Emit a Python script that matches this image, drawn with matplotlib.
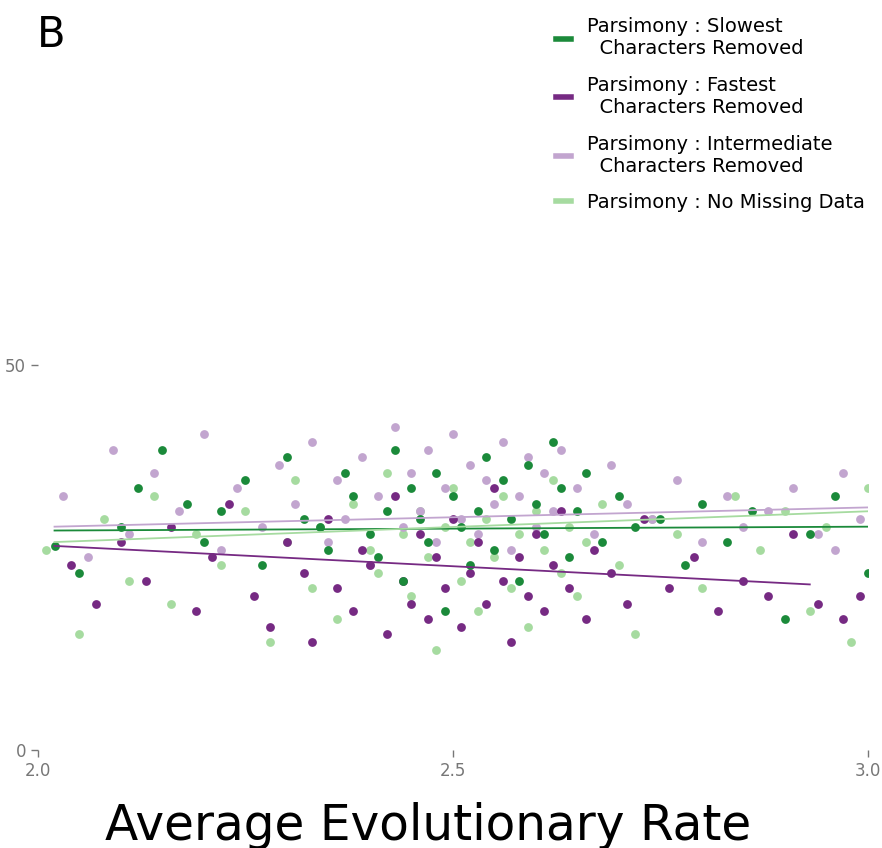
import matplotlib.pyplot as plt
from matplotlib.lines import Line2D

# series points (x = average evolutionary rate, y = value)
slow_x = [2.02,2.05,2.10,2.12,2.15,2.18,2.20,2.22,2.25,2.27,2.30,2.32,2.34,2.35,2.37,2.38,2.40,2.41,2.42,2.43,2.44,2.45,2.46,2.47,2.48,2.49,2.50,2.51,2.52,2.53,2.54,2.55,2.56,2.57,2.58,2.59,2.60,2.61,2.62,2.63,2.64,2.65,2.66,2.68,2.70,2.72,2.75,2.78,2.80,2.83,2.86,2.90,2.93,2.96,3.00]
slow_y = [26.5,23,29,34,39,32,27,31,35,24,38,30,29,26,36,33,28,25,31,39,22,34,30,27,36,18,33,29,24,31,38,26,35,30,22,37,32,28,40,34,25,31,36,27,33,29,30,24,32,27,31,17,28,33,23]

fast_x = [2.04,2.07,2.10,2.13,2.16,2.19,2.21,2.23,2.26,2.28,2.30,2.32,2.33,2.35,2.36,2.38,2.39,2.40,2.42,2.43,2.44,2.45,2.46,2.47,2.48,2.49,2.50,2.51,2.52,2.53,2.54,2.55,2.56,2.57,2.58,2.59,2.60,2.61,2.62,2.63,2.64,2.66,2.67,2.69,2.71,2.73,2.76,2.79,2.82,2.85,2.88,2.91,2.94,2.97,2.99]
fast_y = [24,19,27,22,29,18,25,32,20,16,27,23,14,30,21,18,26,24,15,33,22,19,28,17,25,21,30,16,23,27,19,34,22,14,25,20,28,18,24,31,21,17,26,23,19,30,21,25,18,22,20,28,19,17,20]

mid_x = [2.03,2.06,2.09,2.11,2.14,2.17,2.20,2.22,2.24,2.27,2.29,2.31,2.33,2.35,2.36,2.37,2.39,2.40,2.41,2.43,2.44,2.45,2.46,2.47,2.48,2.49,2.50,2.51,2.52,2.53,2.54,2.55,2.56,2.57,2.58,2.59,2.60,2.61,2.62,2.63,2.65,2.67,2.69,2.71,2.74,2.77,2.80,2.83,2.85,2.88,2.91,2.94,2.97,2.99,2.96]
mid_y = [33,25,39,28,36,31,41,26,34,29,37,32,40,27,35,30,38,24,33,42,29,36,31,39,27,34,41,30,37,28,35,32,40,26,33,38,29,36,31,39,34,28,37,32,30,35,27,33,29,31,34,28,36,30,26]

full_x = [2.01,2.05,2.08,2.11,2.14,2.16,2.19,2.22,2.25,2.28,2.30,2.31,2.33,2.34,2.36,2.38,2.40,2.41,2.42,2.44,2.45,2.46,2.47,2.48,2.49,2.50,2.51,2.52,2.53,2.54,2.55,2.56,2.57,2.58,2.59,2.60,2.61,2.62,2.63,2.64,2.65,2.66,2.68,2.70,2.72,2.74,2.77,2.80,2.84,2.87,2.90,2.93,2.95,2.98,3.00]
full_y = [26,15,30,22,33,19,28,24,31,14,27,35,21,29,17,32,26,23,36,28,20,31,25,13,29,34,22,27,18,30,25,33,21,28,16,31,26,35,23,29,20,27,32,24,15,30,28,21,33,26,31,18,29,14,34]

# trend line endpoints
slow_line_x, slow_line_y = [2.02, 3.0], [28.5, 29.0]
fast_line_x, fast_line_y = [2.02, 2.93], [26.5, 21.5]
mid_line_x, mid_line_y = [2.02, 3.0], [29.0, 31.5]
full_line_x, full_line_y = [2.02, 3.0], [27.0, 31.0]

c_slow, c_fast, c_mid, c_full = '#1b8a3a', '#762a83', '#c2a5cf', '#a6dba0'

fig = plt.figure(figsize=(8.82, 8.48), dpi=100)
ax = fig.add_axes([0.043, 0.1156, 0.941, 0.8844])

for xs, ys, c in [(full_x, full_y, c_full), (mid_x, mid_y, c_mid),
                  (fast_x, fast_y, c_fast), (slow_x, slow_y, c_slow)]:
    ax.scatter(xs, ys, s=40, color=c, linewidths=0, zorder=2)

for xs, ys, c in [(slow_line_x, slow_line_y, c_slow), (fast_line_x, fast_line_y, c_fast),
                  (mid_line_x, mid_line_y, c_mid), (full_line_x, full_line_y, c_full)]:
    ax.plot(xs, ys, color=c, lw=1.3, zorder=3)

ax.set_xlim(2.0, 3.0)
ax.set_ylim(0, 97.4)
ax.set_xticks([2.0, 2.5, 3.0])
ax.set_xticklabels(['2.0', '2.5', '3.0'])
ax.set_yticks([0, 50])
for s in ax.spines.values():
    s.set_visible(False)
ax.tick_params(colors='#777777', labelsize=12, length=5, width=1)
ax.set_xlabel('Average Evolutionary Rate', fontsize=35, labelpad=6)
ax.xaxis.set_label_coords(0.47, -0.07)

handles = [Line2D([], [], color=c, lw=4) for c in [c_slow, c_fast, c_mid, c_full]]
labels = ['Parsimony : Slowest\n  Characters Removed',
          'Parsimony : Fastest\n  Characters Removed',
          'Parsimony : Intermediate\n  Characters Removed',
          'Parsimony : No Missing Data']
fig.legend(handles, labels, loc='upper right', bbox_to_anchor=(1.0, 1.0), frameon=False,
           fontsize=14, handlelength=0.8, labelspacing=0.9)

fig.text(0.042, 0.945, 'B', fontsize=30)

fig.savefig('out.png', dpi=100)
